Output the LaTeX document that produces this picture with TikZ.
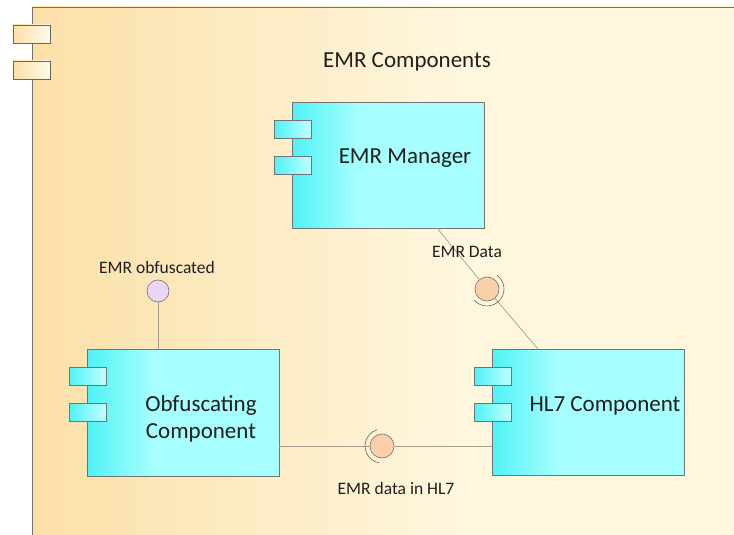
\documentclass[tikz,border=0pt]{standalone}
\usepackage{fontspec}
\setmainfont{Carlito}
\definecolor{pkgL}{HTML}{FCE0A8}
\definecolor{pkgR}{HTML}{FEF6DD}
\definecolor{compL}{HTML}{4FF2F6}
\definecolor{compR}{HTML}{A6FEFE}
\definecolor{lineC}{HTML}{A89C8C}
\definecolor{ballC}{HTML}{F9D0A8}
\definecolor{ballP}{HTML}{EBD5F5}
% cyan fill: saturated at the left edge, light from about a third onwards
\pgfdeclarehorizontalshading{compshade}{100bp}{color(0bp)=(compL); color(25bp)=(compL); color(42bp)=(compR); color(100bp)=(compR)}
% package fill: warm at the left, cream towards the right
\pgfdeclarehorizontalshading{pkgshade}{100bp}{color(0bp)=(pkgL); color(25bp)=(pkgL); color(55bp)=(pkgR); color(100bp)=(pkgR)}
\begin{document}
\begin{tikzpicture}[x=1pt,y=-1pt,
  every node/.style={inner sep=0pt, text=black!88},
  pkgtab/.style={draw=black!60, line width=0.7pt, left color=pkgL, right color=pkgR!60!white},
  comp/.style={draw=black!55, line width=0.8pt, shading=compshade},
  ctab/.style={draw=black!55, line width=0.7pt, left color=compL, right color=compR!70!white},
  conn/.style={draw=lineC, line width=0.7pt},
  ball/.style={circle, draw=black!55, line width=0.6pt, minimum size=24pt, fill=ballC},
  socket/.style={draw=black!60, line width=0.6pt},
  lbl/.style={font=\fontsize{17.5}{20}\selectfont},
  big/.style={font=\fontsize{23}{27}\selectfont, align=center},
]
\useasboundingbox (0,0) rectangle (734,535);
% package frame and its tabs
\fill[white] (0,0) rectangle (734,535);
\path[shading=pkgshade] (32,7) rectangle (734,535);
\draw[black!55, line width=0.8pt] (734,7) -- (32,7) -- (32,535);
\path[pkgtab] (13,25) rectangle (50,43);
\path[pkgtab] (13,61) rectangle (50,79);
\node[font=\fontsize{23}{27}\selectfont] (title) at (407,62) {EMR Components};

% components
\path[comp] (292,102) rectangle (484,228);
\path[ctab] (274,120) rectangle (311,138);
\path[ctab] (274,156) rectangle (311,174);
\node[big] (mgr) at (405,158) {EMR Manager};

\path[comp] (87,349) rectangle (279,476);
\path[ctab] (69,367) rectangle (106,385);
\path[ctab] (69,403) rectangle (106,421);
\node[big] (obf) at (201,419) {Obfuscating\\Component};

\path[comp] (492,349) rectangle (684,475);
\path[ctab] (474,367) rectangle (511,385);
\path[ctab] (474,403) rectangle (511,421);
\node[big] (hl7) at (605,406) {HL7 Component};

% anchor points on the component borders
\coordinate (mgrB) at (437,228);
\coordinate (hl7T) at (538,349);
\coordinate (obfT) at (158,349);
\coordinate (obfR) at (279,446);
\coordinate (hl7L) at (492,446);

% provided interface: EMR obfuscated
\node[ball, fill=ballP, minimum size=22pt] (iobf) at (158,291) {};
\draw[conn] (iobf.south) -- (obfT);
\node[lbl] (lobf) at (157,267) {EMR obfuscated};

% assembly: EMR Data (socket opens towards the HL7 component, lower right)
\node[ball] (idata) at (487,289) {};
\draw[conn] (mgrB) -- (idata);
\draw[conn] (idata) -- (hl7T);
\draw[socket] (idata.center) ++(-55:17) arc[start angle=-55, end angle=140, radius=17];
\node[lbl] (ldata) at (467,252) {EMR Data};

% assembly: EMR data in HL7 (socket opens towards the obfuscating component)
\node[ball] (ihl7) at (382,446) {};
\draw[conn] (obfR) -- (ihl7);
\draw[conn] (ihl7) -- (hl7L);
\draw[socket] (ihl7.center) ++(100:17) arc[start angle=100, end angle=255, radius=17];
\node[lbl] (lhl7) at (396,488) {EMR data in HL7};
\end{tikzpicture}
\end{document}
